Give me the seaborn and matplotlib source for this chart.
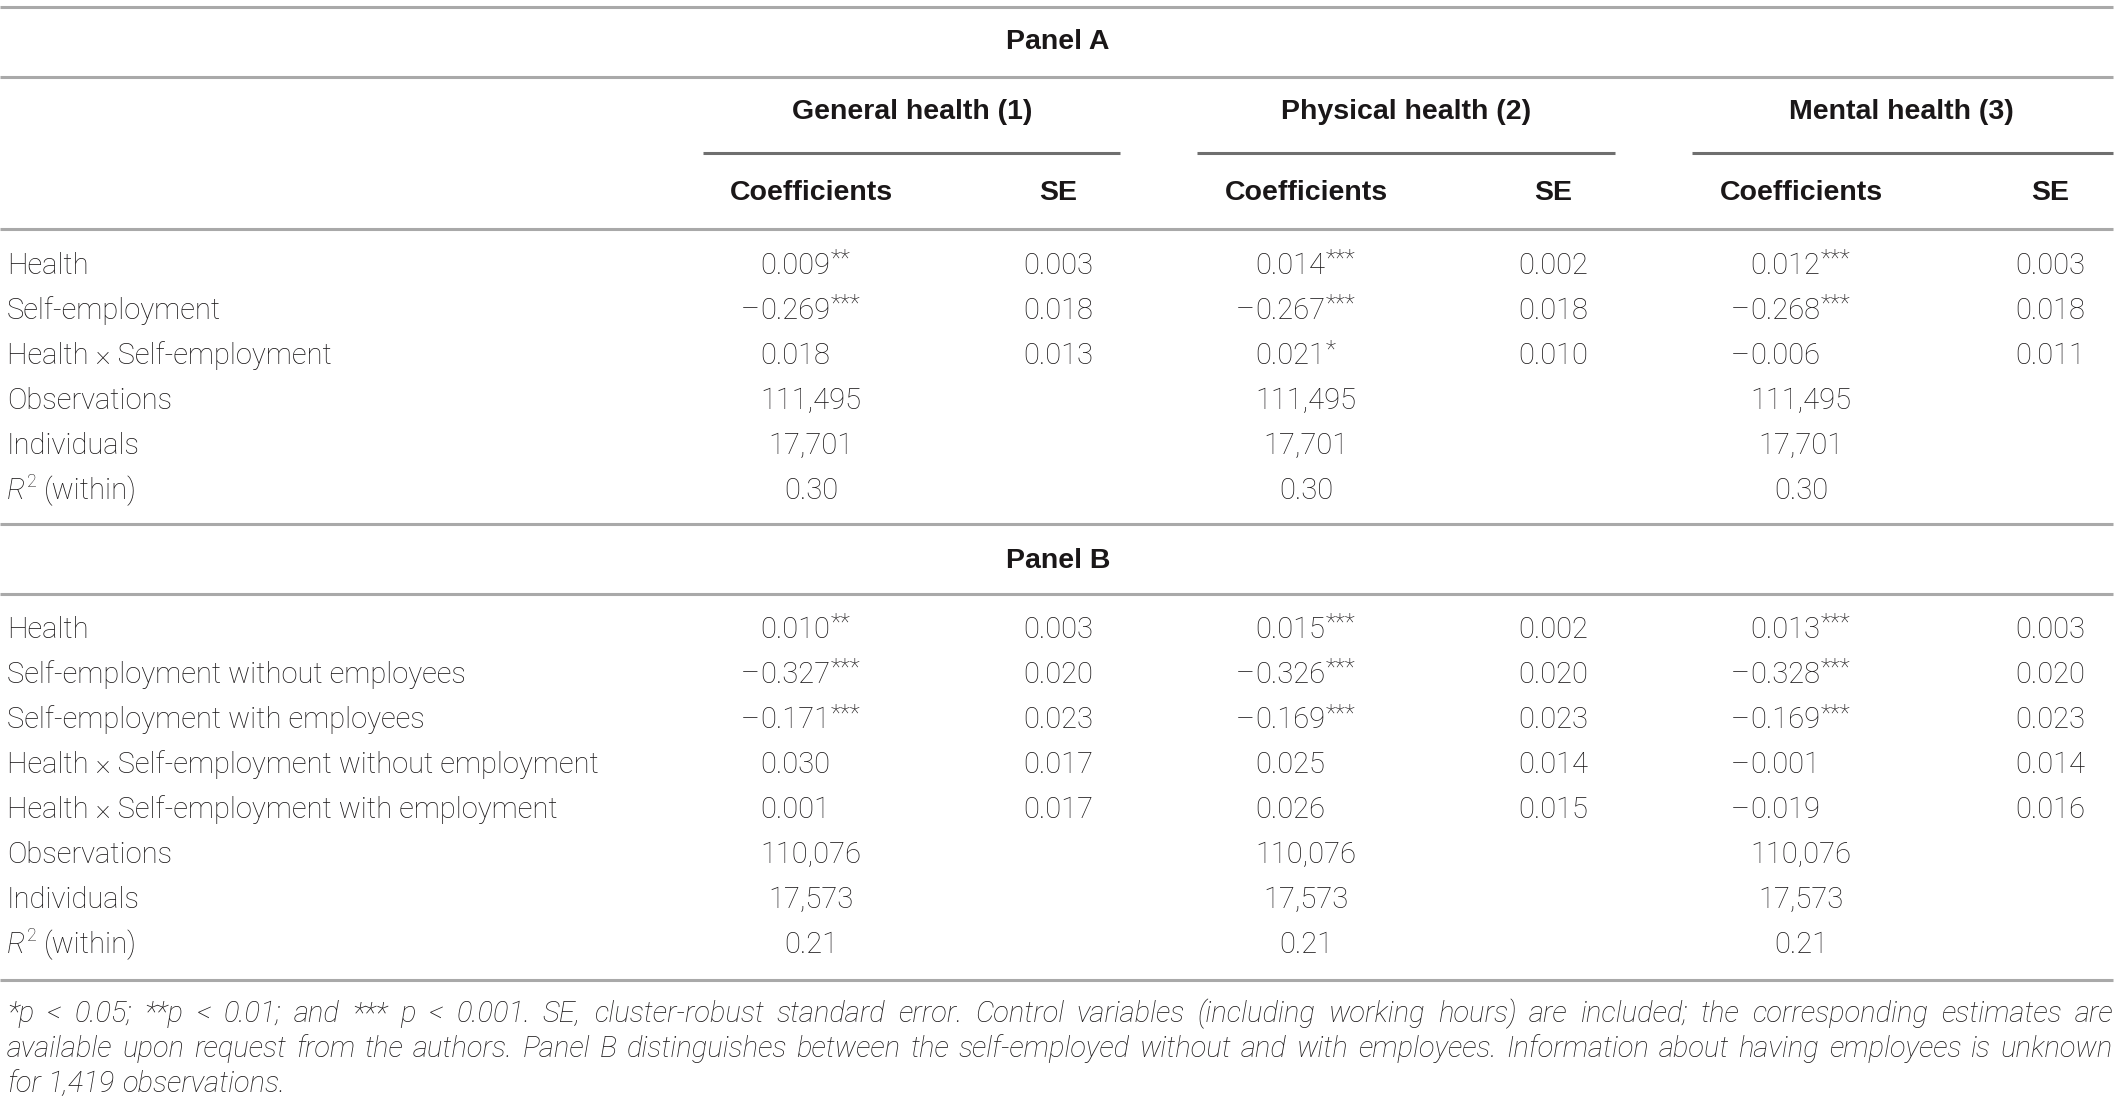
import matplotlib
matplotlib.use("Agg")
import matplotlib.pyplot as plt
import seaborn as sns

# table content
panel_titles = ["Panel A", "Panel B"]
outcomes = ["General health (1)", "Physical health (2)", "Mental health (3)"]
col_heads = ["Coefficients", "SE"]

panel_a_rows = ["Health", "Self-employment", "Health × Self-employment"]
panel_a_coef = [["0.009", "–0.269", "0.018"],
                ["0.014", "–0.267", "0.021"],
                ["0.012", "–0.268", "–0.006"]]
panel_a_stars = [["**", "***", ""],
                 ["***", "***", "*"],
                 ["***", "***", ""]]
panel_a_se = [["0.003", "0.018", "0.013"],
              ["0.002", "0.018", "0.010"],
              ["0.003", "0.018", "0.011"]]
panel_a_obs = ["111,495", "111,495", "111,495"]
panel_a_ind = ["17,701", "17,701", "17,701"]
panel_a_r2 = ["0.30", "0.30", "0.30"]

panel_b_rows = ["Health", "Self-employment without employees",
                "Self-employment with employees",
                "Health × Self-employment without employment",
                "Health × Self-employment with employment"]
panel_b_coef = [["0.010", "–0.327", "–0.171", "0.030", "0.001"],
                ["0.015", "–0.326", "–0.169", "0.025", "0.026"],
                ["0.013", "–0.328", "–0.169", "–0.001", "–0.019"]]
panel_b_stars = [["**", "***", "***", "", ""],
                 ["***", "***", "***", "", ""],
                 ["***", "***", "***", "", ""]]
panel_b_se = [["0.003", "0.020", "0.023", "0.017", "0.017"],
              ["0.002", "0.020", "0.023", "0.014", "0.015"],
              ["0.003", "0.020", "0.023", "0.014", "0.016"]]
panel_b_obs = ["110,076", "110,076", "110,076"]
panel_b_ind = ["17,573", "17,573", "17,573"]
panel_b_r2 = ["0.21", "0.21", "0.21"]

footnote_lines = [
    "*p < 0.05; **p < 0.01; and *** p < 0.001. SE, cluster-robust standard error. "
    "Control variables (including working hours) are included; the corresponding estimates are",
    "available upon request from the authors. Panel B distinguishes between the "
    "self-employed without and with employees. Information about having employees is unknown",
    "for 1,419 observations.",
]

sns.set_theme(style="white")
plt.rcParams['font.family'] = ['Roboto', 'Liberation Sans', 'DejaVu Sans']

W, H = 2118, 1101
fig = plt.figure(figsize=(W / 100, H / 100), dpi=100)
ax = fig.add_axes([0, 0, 1, 1])
ax.set_xlim(0, W)
ax.set_ylim(H, 0)
ax.axis('off')
renderer = fig.canvas.get_renderer()

ink = "#1a1718"
light_rule = "#a9a9a9"
dark_rule = "#6f6f6f"
body = dict(fontsize=21, color=ink, fontweight='light')
bold = dict(fontsize=20.5, color=ink, fontweight='bold', family=['Liberation Sans'])

x_left = 7
coef_x = [811, 1306, 1801]
se_x = [1058, 1553, 2050]
group_x = [912, 1406, 1901]
group_lines = [(703, 1120), (1197, 1615), (1692, 2113)]
row_h = 45.1


def width_of(t):
    return t.get_window_extent(renderer=renderer).width


def measure(s, **kw):
    t = ax.text(0, H / 2, s, **kw)
    w = width_of(t)
    t.remove()
    return w


def rule(y, x0=0, x1=2113, color=light_rule, lw=2.2):
    ax.hlines(y, x0, x1, color=color, lw=lw)


def coef_cell(x, y, val, stars):
    x0 = x - 51
    num = val.lstrip("–")
    t = ax.text(x0, y, num, ha='left', va='center', **body)
    if val.startswith("–"):
        ax.text(x0, y, "–", ha='right', va='center', **body)
    if stars:
        ax.text(x0 + width_of(t) + 1, y - 6, stars, ha='left', va='center',
                fontsize=17, color=ink, fontweight='light')


def r2_label(y):
    t = ax.text(x_left, y, "R", ha='left', va='center', style='italic', **body)
    w = width_of(t)
    t2 = ax.text(x_left + w + 1, y - 9, "2", ha='left', va='center',
                 fontsize=13, color=ink, fontweight='light')
    ax.text(x_left + w + width_of(t2) + 9, y, "(within)", ha='left', va='center', **body)


def panel_rows(y0, labels, coef, stars, se, obs, ind, r2):
    n = len(labels)
    for i, lab in enumerate(labels):
        y = y0 + i * row_h
        ax.text(x_left, y, lab, ha='left', va='center', **body)
        for g in range(3):
            coef_cell(coef_x[g], y, coef[g][i], stars[g][i])
            ax.text(se_x[g], y, se[g][i], ha='center', va='center', **body)
    extra = [("Observations", obs), ("Individuals", ind), (None, r2)]
    for j, (lab, vals) in enumerate(extra):
        y = y0 + (n + j) * row_h
        if lab is None:
            r2_label(y)
        else:
            ax.text(x_left, y, lab, ha='left', va='center', **body)
        for g in range(3):
            ax.text(coef_x[g], y, vals[g], ha='center', va='center', **body)


# panel A header
rule(7)
ax.text(W / 2 - 1, 42, panel_titles[0], ha='center', va='center', **bold)
rule(77)
for g in range(3):
    ax.text(group_x[g], 112, outcomes[g], ha='center', va='center', **bold)
    rule(153, group_lines[g][0], group_lines[g][1], color=dark_rule, lw=2.2)
    ax.text(coef_x[g], 193, col_heads[0], ha='center', va='center', **bold)
    ax.text(se_x[g], 193, col_heads[1], ha='center', va='center', **bold)
rule(229)
panel_rows(265.5, panel_a_rows, panel_a_coef, panel_a_stars, panel_a_se,
           panel_a_obs, panel_a_ind, panel_a_r2)

# panel B
rule(524)
ax.text(W / 2 - 1, 561, panel_titles[1], ha='center', va='center', **bold)
rule(594)
panel_rows(629.5, panel_b_rows, panel_b_coef, panel_b_stars, panel_b_se,
           panel_b_obs, panel_b_ind, panel_b_r2)
rule(980)

# footnote, justified like the journal layout
foot = dict(fontsize=21, color=ink, fontweight='light', style='italic')
space = measure("a b", **foot) - measure("ab", **foot)
line_w = 2113 - x_left
for k, line in enumerate(footnote_lines):
    words = line.split(" ")
    widths = [measure(w, **foot) for w in words]
    y = 1014 + k * 35
    if k < len(footnote_lines) - 1:
        gap = (line_w - sum(widths)) / (len(words) - 1)
    else:
        gap = space
    x = x_left
    for w, wd in zip(words, widths):
        ax.text(x, y, w, ha='left', va='center', **foot)
        x += wd + gap

fig.savefig("out.png", dpi=100, facecolor="white")
